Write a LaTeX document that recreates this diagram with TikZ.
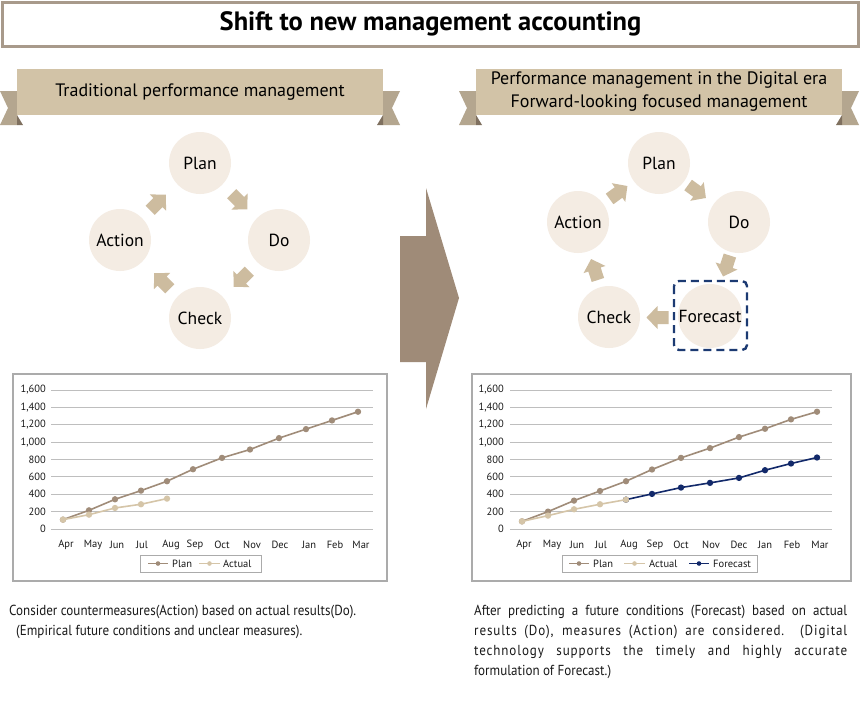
\documentclass[tikz,border=0pt]{standalone}
\usepackage{fontspec}
\setmainfont{PT Sans}
\newfontfamily\condfont[FakeStretch=0.9]{PT Sans}
\newfontfamily\spacedfont[FakeStretch=0.9, LetterSpace=6]{PT Sans}
\usetikzlibrary{calc}
\definecolor{titleborder}{HTML}{A89A8B}
\definecolor{bannerfill}{HTML}{D2C3A7}
\definecolor{tailfill}{HTML}{B4A68F}
\definecolor{foldfill}{HTML}{7F705F}
\definecolor{circfill}{HTML}{F4ECE3}
\definecolor{arrowtan}{HTML}{CDBC9F}
\definecolor{bigarrow}{HTML}{9F8B78}
\definecolor{navybox}{HTML}{1C3A72}
\definecolor{fccol}{HTML}{12296A}
\definecolor{planc}{HTML}{A08C79}
\definecolor{actualc}{HTML}{D5C5A8}
\definecolor{gridc}{HTML}{BEBEBE}
\definecolor{chartborder}{HTML}{ABABAB}
\definecolor{txt}{HTML}{1A1A1A}
\begin{document}
\begin{tikzpicture}[x=1pt,y=-1pt,
  cyc/.style={circle, fill=circfill, minimum size=62pt, inner sep=0pt, font=\fontsize{17.5}{20}\selectfont, text=black},
  bannerbox/.style={fill=bannerfill, minimum width=366pt, minimum height=46pt, inner sep=0pt, font=\fontsize{18}{23}\selectfont, align=center, text=black},
  blockarrow/.pic={\fill[arrowtan] (-11,-6.5) -- (0,-6.5) -- (0,-11.5) -- (11,0) -- (0,11.5) -- (0,6.5) -- (-11,6.5) -- cycle;},
  grid/.style={gridc, line width=0.9pt},
  ylab/.style={anchor=east, font=\fontsize{10.5}{12}\selectfont, text=txt, inner sep=0pt},
  mlab/.style={anchor=center, font=\fontsize{10.5}{12}\selectfont, text=txt, inner sep=0pt},
  leglab/.style={anchor=west, font=\fontsize{10.5}{12}\selectfont, text=txt, inner sep=0pt},
  chartbox/.style={draw=chartborder, line width=1.8pt},
  planline/.style={planc, line width=1.6pt, mark=*, mark size=2.3pt, mark options={fill=planc, draw=planc}},
  actline/.style={actualc, line width=1.6pt, mark=*, mark size=2.3pt, mark options={fill=actualc, draw=actualc}},
  fcplot/.style={fccol, line width=1.6pt, mark=*, mark size=2.3pt, mark options={fill=fccol, draw=fccol}},
  bodytxt/.style={anchor=west, font=\condfont\fontsize{14.5}{16}\selectfont, text=txt, inner sep=0pt},
  bodyspaced/.style={anchor=west, font=\spacedfont\fontsize{14.5}{16}\selectfont, text=txt, inner sep=0pt}
]
\useasboundingbox (0,0) rectangle (861,702);
\fill[white] (0,0) rectangle (861,702);

% title
\node[draw=titleborder, line width=3pt, fill=white, minimum width=856pt, minimum height=44pt, inner sep=0pt,
      font=\bfseries\fontsize{26.5}{28}\selectfont] (title) at (430.5,24) {Shift to new management accounting};

% left banner tails
\fill[tailfill] (17,91) -- (0,91) -- (8,108) -- (0,125) -- (17,125) -- cycle;
\fill[foldfill] (17,115) -- (23,125) -- (17,125) -- cycle;
\fill[tailfill] (383,91) -- (400,91) -- (392,108) -- (400,125) -- (383,125) -- cycle;
\fill[foldfill] (383,115) -- (377,125) -- (383,125) -- cycle;
\node[bannerbox] (lbanner) at (200,92) {Traditional performance management};

% right banner tails
\fill[tailfill] (476,91) -- (459,91) -- (467,108) -- (459,125) -- (476,125) -- cycle;
\fill[foldfill] (476,115) -- (482,125) -- (476,125) -- cycle;
\fill[tailfill] (842,91) -- (859,91) -- (851,108) -- (859,125) -- (842,125) -- cycle;
\fill[foldfill] (842,115) -- (836,125) -- (842,125) -- cycle;
\node[bannerbox] (rbanner) at (659,92) {Performance management in the Digital era\\Forward-looking focused management};

% left cycle
\node[cyc] (lplan) at (200,163) {Plan};
\node[cyc] (ldo) at (279,240) {Do};
\node[cyc] (lcheck) at (200,318) {Check};
\node[cyc] (laction) at (120,240) {Action};
\pic[rotate=-45] at ($(lplan)!0.5!(ldo)$) {blockarrow};
\pic[rotate=-135] at ($(ldo)!0.5!(lcheck)+(2,0)$) {blockarrow};
\pic[rotate=135] at ($(lcheck)!0.5!(laction)+(2,2)$) {blockarrow};
\pic[rotate=45] at ($(laction)!0.5!(lplan)+(-2,1)$) {blockarrow};

% big arrow
\fill[bigarrow] (400,236) -- (426,236) -- (426,188) -- (459,298) -- (426,409) -- (426,362) -- (400,362) -- cycle;

% right cycle
\node[cyc] (rplan) at (659,163) {Plan};
\node[cyc] (rdo) at (739,222) {Do};
\node[cyc] (rforecast) at (710,316) {Forecast};
\node[cyc] (rcheck) at (609,317) {Check};
\node[cyc] (raction) at (578,222) {Action};
\pic[rotate=-36] at ($(rplan)!0.5!(rdo)+(-2,-1)$) {blockarrow};
\pic[rotate=-108] at ($(rdo)!0.5!(rforecast)+(2,-3)$) {blockarrow};
\pic[rotate=180] at ($(rforecast)!0.5!(rcheck)+(-2,1)$) {blockarrow};
\pic[rotate=108] at ($(rcheck)!0.5!(raction)+(1,0)$) {blockarrow};
\pic[rotate=36] at ($(raction)!0.5!(rplan)$) {blockarrow};
\draw[navybox, line width=2.4pt, dash pattern=on 8pt off 5pt, rounded corners=5pt]
  ($(rforecast.center)+(-36,-35)$) rectangle ($(rforecast.center)+(37,34)$);

% ---------- left chart ----------
\draw[chartbox] (13,374) rectangle (387,581);
\begin{scope}[yshift=-529pt, y=0.086875pt]
  \foreach \v/\t in {0/0,200/200,400/400,600/600,800/800,1000/{1,000},1200/{1,200},1400/{1,400},1600/{1,600}} {
    \draw[grid] (51,\v) -- (373,\v);
    \node[ylab] (ly\v) at (46,\v) {\t};
  }
  \draw[planline] plot coordinates {(63,108) (89,215) (115,342) (141,442) (167,550) (193,688) (222,819) (250,915) (279,1046) (306,1150) (332,1250) (358,1350)};
  \draw[actline] plot coordinates {(63,108) (89,165) (115,242) (141,285) (167,350)};
\end{scope}
\foreach \m/\x in {Apr/66,May/93,Jun/117,Jul/142,Aug/171,Sep/195,Oct/222,Nov/252,Dec/280,Jan/309,Feb/335,Mar/361} {
  \node[mlab] (lm\m) at (\x,545) {\m};
}
\node[draw=chartborder, line width=0.8pt, minimum width=121pt, minimum height=17pt, inner sep=0pt] (lleg) at (200.5,563.5) {};
\draw[planc, line width=1.6pt] (148,563.5) -- (168,563.5);
\fill[planc] (158,563.5) circle (2.3pt);
\node[leglab] (llegplan) at (172,563.5) {Plan};
\draw[actualc, line width=1.6pt] (199,563.5) -- (220,563.5);
\fill[actualc] (209.5,563.5) circle (2.3pt);
\node[leglab] (llegact) at (223,563.5) {Actual};

% ---------- right chart ----------
\draw[chartbox] (472,374) rectangle (851,581);
\begin{scope}[yshift=-529pt, y=0.086875pt]
  \foreach \v/\t in {0/0,200/200,400/400,600/600,800/800,1000/{1,000},1200/{1,200},1400/{1,400},1600/{1,600}} {
    \draw[grid] (510,\v) -- (832,\v);
    \node[ylab] (ry\v) at (504,\v) {\t};
  }
  \draw[planline] plot coordinates {(522,88) (548,200) (574,327) (600,438) (626,550) (652,685) (681,819) (710,931) (739,1058) (765,1154) (791,1262) (817,1350)};
  \draw[fcplot] plot coordinates {(626,338) (652,404) (681,477) (710,531) (739,588) (765,677) (791,754) (817,823)};
  \draw[actline] plot coordinates {(522,88) (548,154) (574,227) (600,285) (626,338)};
\end{scope}
\foreach \m/\x in {Apr/524,May/552,Jun/577,Jul/601,Aug/629,Sep/655,Oct/681,Nov/711,Dec/739,Jan/765,Feb/792,Mar/820} {
  \node[mlab] (rm\m) at (\x,545) {\m};
}
\node[draw=chartborder, line width=0.8pt, minimum width=195pt, minimum height=17pt, inner sep=0pt] (rleg) at (659.5,563.5) {};
\draw[planc, line width=1.6pt] (569,563.5) -- (589,563.5);
\fill[planc] (579,563.5) circle (2.3pt);
\node[leglab] (rlegplan) at (593,563.5) {Plan};
\draw[actualc, line width=1.6pt] (624,563.5) -- (645,563.5);
\fill[actualc] (634.5,563.5) circle (2.3pt);
\node[leglab] (rlegact) at (649,563.5) {Actual};
\draw[fccol, line width=1.6pt] (689,563.5) -- (709,563.5);
\fill[fccol] (699,563.5) circle (2.3pt);
\node[leglab] (rlegfc) at (713,563.5) {Forecast};

% ---------- bottom texts ----------
\node[bodytxt] (lt1) at (9,612) {Consider countermeasures(Action) based on actual results(Do).};
\node[bodytxt] (lt2) at (16,632) {(Empirical future conditions and unclear measures).};
\node[bodytxt] (rt1) at (474,612) {\makebox[373pt][s]{After predicting a future conditions (Forecast) based on actual}};
\node[bodyspaced] (rt2) at (474,632) {\makebox[373pt][s]{results (Do), measures (Action) are considered. (Digital}};
\node[bodyspaced] (rt3) at (474,652) {\makebox[373pt][s]{technology supports the timely and highly accurate}};
\node[bodytxt] (rt4) at (474,672) {formulation of Forecast.)};
\end{tikzpicture}
\end{document}
